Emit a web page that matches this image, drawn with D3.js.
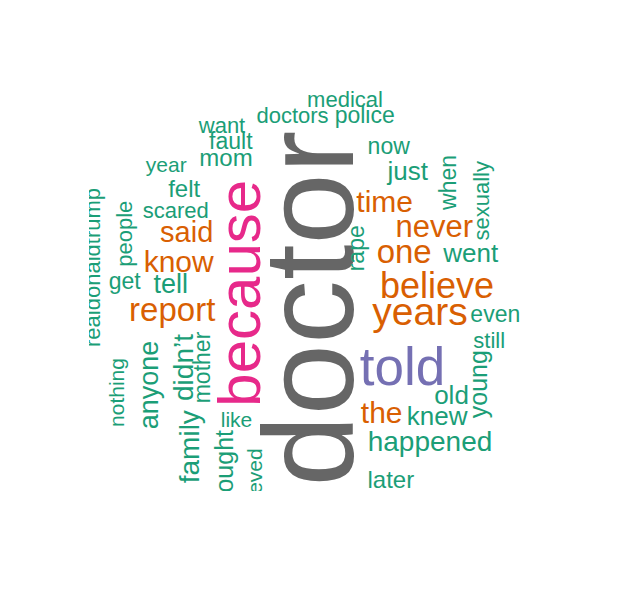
<!DOCTYPE html>
<html>
<head>
<meta charset="utf-8">
<script src="https://cdn.jsdelivr.net/npm/d3@7"></script>
<style>
  html, body { margin: 0; padding: 0; background: #ffffff; }
  svg { display: block; }
</style>
</head>
<body>
<svg id="chart" width="640" height="606"></svg>
<script>
// ---- data ----
const words = ["doctor","because","told","years","believe","one","report","never","know","the","time","said",
  "didn’t","happened","family","tell","anyone","old","knew","went","just","thought","young","mom","later","felt",
  "get","police","now","even","rape","mother","when","fault","doctors","sexually","scared","want","medical","still",
  "people","realdonaldtrump","like","year","believed","nothing"];
const freqs = [120,52,45,31,28,25,25,23,22,22,22,21,
  20,20,20,19,19,18,18,18,18,17,17,16,16,16,
  15,15,15,15,15,15,15,15,14,14,14,14,14,14,
  14,14,13,13,13,13];

// word-cloud placement (layout output: anchor x, anchor y, rotation)
const layoutX = [353,260,402.5,420,437,404.2,172.2,434.3,178.7,381.7,384.7,186.7,
  193.3,430,199,170.8,158,451.5,437.2,470.8,407.7,233,486.7,226,390.8,184.2,
  124.7,364.7,388.7,495.3,363.5,210,455.7,230.8,292.5,489,175.8,222,345,489.2,
  132,100,236.5,166.2,261.5,124];
const layoutY = [308.5,293.3,385,325,298,263.3,320.7,236.7,271.7,423.3,211.7,241.7,
  367.5,451,446.7,293.3,385,404.3,425,261.7,180,471.7,384.2,166,488.3,197.3,
  289,122.7,154,321.7,248.3,367.5,182.5,149,122.7,200.8,218.3,132.7,107,347.7,
  233.7,267.5,426.7,171.7,487.4,392.5];
const layoutRot = [-90,-90,0,0,0,0,0,0,0,0,0,0,
  -90,0,-90,0,-90,0,0,0,0,-90,-90,0,0,0,
  0,0,0,0,-90,-90,-90,0,0,-90,0,0,0,0,
  -90,-90,0,0,-90,-90];

const palette = ["#1B9E77","#D95F02","#7570B3","#E7298A","#666666"];
const colorBreaks = [21, 40, 50, 100];

// ---- scales ----
const W = 640, H = 606;
const svg = d3.select("#chart");
const x = d3.scaleLinear().domain([0, 640]).range([0, W]);
const y = d3.scaleLinear().domain([0, 606]).range([0, H]);
const size = d3.scaleLinear().domain([13, 120]).range([21, 128]);
const color = d3.scaleThreshold().domain(colorBreaks).range(palette);

const data = words.map((w, i) => ({w, f: freqs[i], x: layoutX[i], y: layoutY[i], r: layoutRot[i]}));

svg.append("defs").append("clipPath").attr("id", "plotclip")
  .append("rect").attr("x", 89).attr("y", 0).attr("width", W - 89).attr("height", 491);

svg.append("g").attr("clip-path", "url(#plotclip)")
  .selectAll("text").data(data).join("text")
  .attr("transform", d => `translate(${x(d.x)},${y(d.y)}) rotate(${d.r})`)
  .attr("text-anchor", "middle")
  .style("font-family", "'Liberation Sans', Arial, Helvetica, sans-serif")
  .style("font-size", d => size(d.f) + "px")
  .attr("fill", d => color(d.f))
  .text(d => d.w);
</script>
</body>
</html>
